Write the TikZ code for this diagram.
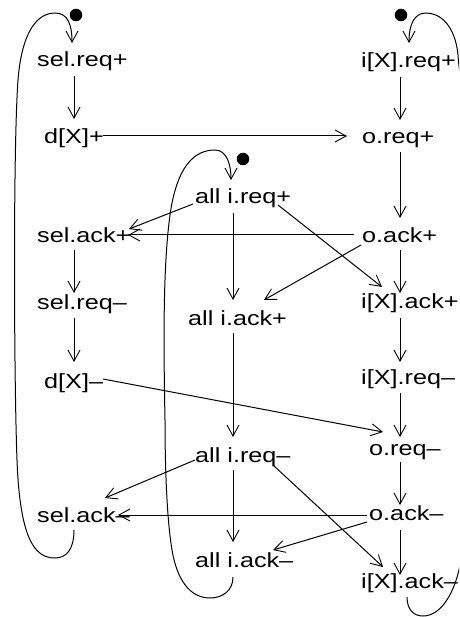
\documentclass[tikz,border=0pt]{standalone}
\usepackage{fontspec}
\setmainfont[FakeStretch=1.23]{Liberation Sans}
\usetikzlibrary{arrows.meta,calc}
\begin{document}
\begin{tikzpicture}[x=1pt,y=-1pt,
  lbl/.style={inner sep=0pt, anchor=base west, font=\fontsize{20.5}{24}\selectfont},
  arr/.style={-{Straight Barb[length=11pt,width=12pt,line width=0.9pt]}, line width=1pt},
  token/.style={circle, fill=black, inner sep=0pt, minimum size=12.5pt}]
\fill[white] (0,0) rectangle (459,617);
\useasboundingbox (0,0) rectangle (459,617);
% nodes
\node[lbl] (selreqp) at (37,67) {sel.req+};
\node[lbl] (dxp) at (44,144) {d[X]+};
\node[lbl] (ixreqp) at (361,68) {i[X].req+};
\node[lbl] (oreqp) at (362,144) {o.req+};
\node[lbl] (allreqp) at (195,204) {all i.req+};
\node[lbl] (selackp) at (37,242) {sel.ack+};
\node[lbl] (oackp) at (362,242) {o.ack+};
\node[lbl] (selreqm) at (37,309) {sel.req–};
\node[lbl] (allackp) at (188,325) {all i.ack+};
\node[lbl] (ixackp) at (361,308) {i[X].ack+};
\node[lbl] (dxm) at (44,388) {d[X]–};
\node[lbl] (ixreqm) at (361,384) {i[X].req–};
\node[lbl] (oreqm) at (369,455) {o.req–};
\node[lbl] (allreqm) at (195,462) {all i.req–};
\node[lbl] (selackm) at (37,522) {sel.ack–};
\node[lbl] (oackm) at (369,520) {o.ack–};
\node[lbl] (allackm) at (195,567) {all i.ack–};
\node[lbl] (ixackm) at (361,588) {i[X].ack–};
% tokens
\node[token] (tok1) at (76,15) {};
\node[token] (tok2) at (243,159) {};
\node[token] (tok3) at (401,15) {};
% vertical edges
\draw[arr] ($(selreqp.base west)+(37,9)$) -- ($(dxp.base west)+(30,-25)$);
\draw[arr] ($(selackp.base west)+(37,8)$) -- ($(selreqm.base west)+(37,-16)$);
\draw[arr] ($(selreqm.base west)+(37,9)$) -- ($(dxm.base west)+(30,-26)$);
\draw[arr] ($(ixreqp.base west)+(39,9)$) -- ($(oreqp.base west)+(38,-24)$);
\draw[arr] ($(oreqp.base west)+(38,8)$) -- ($(oackp.base west)+(38,-24)$);
\draw[arr] ($(oackp.base west)+(38,8)$) -- ($(ixackp.base west)+(39,-15)$);
\draw[arr] ($(ixackp.base west)+(39,10)$) -- ($(ixreqm.base west)+(39,-22)$);
\draw[arr] ($(ixreqm.base west)+(39,9)$) -- ($(oreqm.base west)+(31,-18)$);
\draw[arr] ($(oreqm.base west)+(31,7)$) -- ($(oackm.base west)+(31,-15)$);
\draw[arr] ($(oackm.base west)+(31,10)$) -- ($(ixackm.base west)+(39,-13)$);
\draw[arr] ($(allreqp.base west)+(38,9)$) -- ($(allackp.base west)+(45,-25)$);
\draw[arr] ($(allackp.base west)+(45,8)$) -- ($(allreqm.base west)+(38,-25)$);
\draw[arr] ($(allreqm.base west)+(38,8)$) -- ($(allackm.base west)+(38,-25)$);
% other edges
\draw[arr] ($(dxp.base west)+(59,-8)$) -- ($(oreqp.base west)+(-15,-8)$);
\draw[arr] ($(oackp.base west)+(-8,-7)$) -- ($(selackp.base west)+(91,-7)$);
\draw[arr] ($(allreqp.base west)+(-2,0)$) -- ($(selackp.base west)+(92,-13)$);
\draw[arr] ($(allreqp.base west)+(83,1)$) -- ($(ixackp.base west)+(21,-21)$);
\draw[arr] ($(oackp.base west)+(-1,3)$) -- ($(allackp.base west)+(76,-25)$);
\draw[arr] ($(dxm.base west)+(59,-9)$) -- ($(oreqm.base west)+(14,-23)$);
\draw[arr] ($(allreqm.base west)+(0,-2)$) -- ($(selackm.base west)+(68,-24)$);
\draw[arr] ($(allreqm.base west)+(78,3)$) -- ($(ixackm.base west)+(22,-21)$);
\draw[arr] ($(oackm.base west)+(-2,-5)$) -- ($(selackm.base west)+(81,-7)$);
\draw[arr] ($(oackm.base west)+(-2,2)$) -- ($(allackm.base west)+(78,-17)$);
% loops
\draw[arr] ($(selackm.base west)+(37,8)$) .. controls (74,550) and (66,558) .. (55,558)
  .. controls (35,558) and (20,540) .. (17,460)
  .. controls (14,380) and (13,150) .. (18,80)
  .. controls (22,30) and (38,13) .. (55,13)
  .. controls (68,13) and (72,25) .. ($(selreqp.base west)+(35,-24)$);
\draw[arr] ($(allackm.base west)+(38,10)$) .. controls (233,591) and (222,598) .. (210,598)
  .. controls (190,598) and (177,580) .. (172,550)
  .. controls (167,520) and (165,470) .. (165,420)
  .. controls (163,320) and (164,260) .. (170,215)
  .. controls (177,165) and (195,150) .. (215,150)
  .. controls (227,150) and (231,165) .. ($(allreqp.base west)+(36,-24)$);
\begin{scope}
\clip (0,0) rectangle (459,617);
\draw[arr] ($(ixackm.base west)+(46,9)$) .. controls (407,610) and (414,616) .. (423,616)
  .. controls (440,616) and (455,595) .. (461,560)
  .. controls (470,500) and (474,450) .. (474,400)
  -- (474,200)
  .. controls (474,120) and (460,90) .. (458,55)
  .. controls (455,25) and (440,13) .. (426,13)
  .. controls (414,13) and (409,25) .. ($(ixreqp.base west)+(48,-25)$);
\end{scope}
\end{tikzpicture}
\end{document}
